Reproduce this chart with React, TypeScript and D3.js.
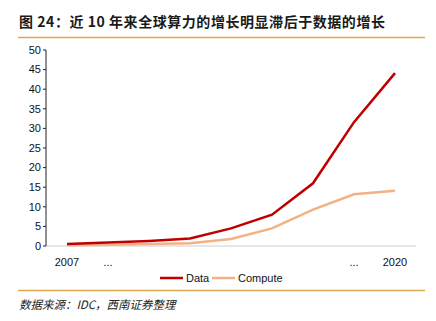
import React from "react";
import * as d3 from "d3";

const categories = ["2007", "...", "", "", "", "", "", "...", "2020"];
const dataSeries = [0.5, 0.9, 1.3, 1.9, 4.5, 8.0, 16.0, 31.6, 44.1];
const computeSeries = [0.2, 0.3, 0.5, 0.7, 1.8, 4.5, 9.3, 13.2, 14.1];
const yTicks = [0, 5, 10, 15, 20, 25, 30, 35, 40, 45, 50];
const seriesNames = ["Data", "Compute"];
const seriesColors = ["#C00000", "#F4B183"];

export default function App() {
  const W = 436, H = 321;
  const x = d3.scalePoint<number>().domain(d3.range(categories.length)).range([67, 395]);
  const y = d3.scaleLinear().domain([0, 50]).range([246, 50]);
  const line = d3.line<number>().x((_, i) => x(i) as number).y((d) => y(d));
  const font = "Liberation Sans, Arial, sans-serif";
  return (
    <svg width={W} height={H} style={{ position: "absolute", left: 0, top: 0, background: "#fff" }}>
      <text x={19} y={27} fontFamily="'Noto Sans CJK SC', sans-serif" fontWeight="bold" fontSize={14} letterSpacing={0.55} fill="#1a1a1a">
        图 24：近 10 年来全球算力的增长明显滞后于数据的增长
      </text>
      <line x1={18} x2={425} y1={37.5} y2={37.5} stroke="#E0A94E" strokeWidth={1.5} />
      {/* x baseline */}
      <line x1={46} x2={416} y1={y(0)} y2={y(0)} stroke="#E6E6E6" strokeWidth={2} />
      {/* y axis */}
      <line x1={46} x2={46} y1={y(50)} y2={y(0)} stroke="#222" strokeWidth={1} />
      {yTicks.map((t) => (
        <g key={t}>
          <line x1={43} x2={46} y1={y(t)} y2={y(t)} stroke="#222" />
          <text x={41} y={y(t)} dy="0.35em" textAnchor="end" fontFamily={font} fontSize={11} fill="#111">
            {t}
          </text>
        </g>
      ))}
      {categories.map((c, i) =>
        c ? (
          <text key={i} x={x(i) as number} y={266} textAnchor="middle" fontFamily={font} fontSize={11} fill="#111">
            {c}
          </text>
        ) : null
      )}
      <path d={line(computeSeries) || ""} fill="none" stroke={seriesColors[1]} strokeWidth={2.5} />
      <path d={line(dataSeries) || ""} fill="none" stroke={seriesColors[0]} strokeWidth={2.5} />
      {/* legend */}
      <g>
        <line x1={160} x2={183} y1={278} y2={278} stroke={seriesColors[0]} strokeWidth={2.5} />
        <text x={186} y={278} dy="0.35em" fontFamily={font} fontSize={11} fill="#111">{seriesNames[0]}</text>
        <line x1={212} x2={235} y1={278} y2={278} stroke={seriesColors[1]} strokeWidth={2.5} />
        <text x={238} y={278} dy="0.35em" fontFamily={font} fontSize={11} fill="#111">{seriesNames[1]}</text>
      </g>
      <line x1={18} x2={425} y1={290.5} y2={290.5} stroke="#E0A94E" strokeWidth={1.5} />
      <text x={19} y={309} fontFamily="'Noto Sans CJK SC', sans-serif" fontStyle="italic" fontSize={11.5} fill="#222">
        数据来源：IDC，西南证券整理
      </text>
    </svg>
  );
}
